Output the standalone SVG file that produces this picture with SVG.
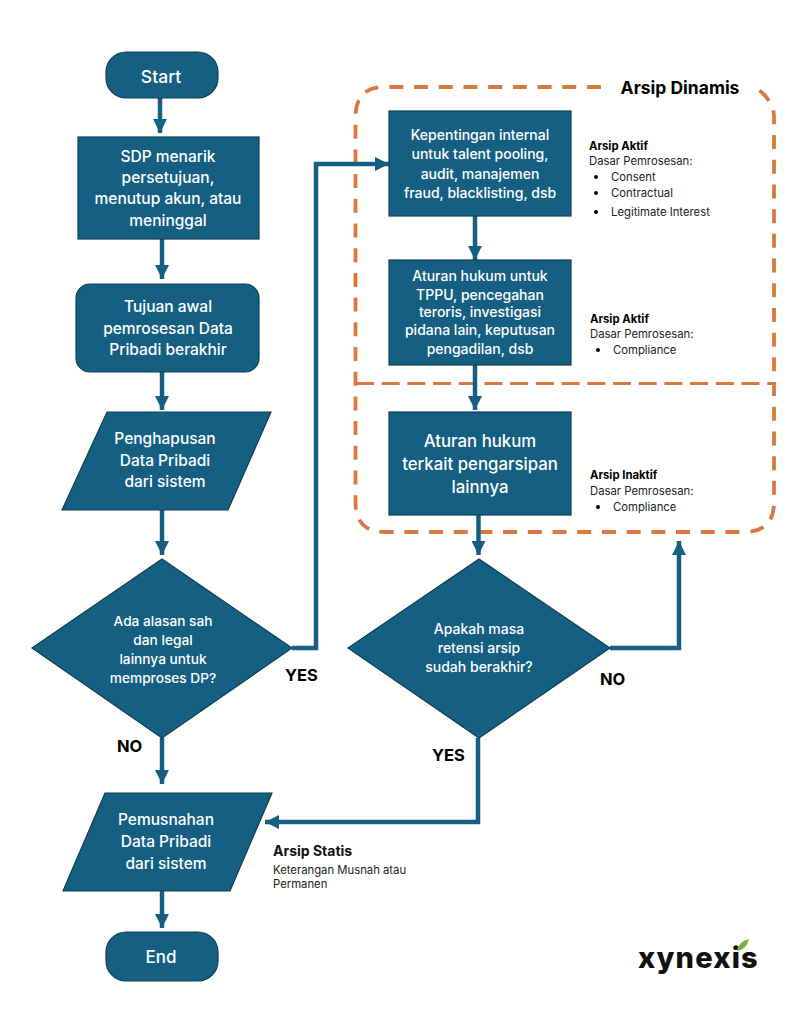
<svg xmlns="http://www.w3.org/2000/svg" width="800" height="1032" viewBox="0 0 800 1032">
<style>
text{font-family:"Inter","Noto Sans","Liberation Sans",sans-serif}
.n{fill:#156082;stroke:#0f3f55;stroke-width:1.2}
.w{fill:#fff;text-anchor:middle;font-size:15.5px;font-weight:500}
.ws{fill:#fff;text-anchor:middle;font-size:14px;font-weight:500}
.c{fill:none;stroke:#156082;stroke-width:4.5}
.d{fill:none;stroke:#d9793f;stroke-width:3.8;stroke-dasharray:14 10.7}
.e{fill:none;stroke:#d9793f;stroke-width:2.8;stroke-dasharray:18 7.7}
.l{font-weight:700;font-size:16.5px;fill:#000}
.h{font-weight:700;font-size:11.3px;fill:#000}
.s{font-size:11.3px;fill:#222}
</style>
<defs>
<marker id="a" markerUnits="userSpaceOnUse" markerWidth="16" markerHeight="14" refX="14" refY="7" orient="auto"><path d="M0 0L14 7L0 14z" fill="#156082"/></marker>
</defs>
<rect width="800" height="1032" fill="#fff"/>
<g id="frame">
<path class="d" d="M601 87H385Q355.500 87 355.500 117V502Q355.500 532 385 532H744Q774 532 774 502V117Q774 102 759 90"/>
<path class="e" d="M356 383.500H776"/>
<text x="680" y="94" text-anchor="middle" font-size="17.5" font-weight="700" fill="#000">Arsip Dinamis</text>
</g>
<g id="connectors">
<path class="c" marker-end="url(#a)" d="M160 98V133"/>
<path class="c" marker-end="url(#a)" d="M162 239V279"/>
<path class="c" marker-end="url(#a)" d="M162 372V410"/>
<path class="c" marker-end="url(#a)" d="M162 510V555"/>
<path class="c" marker-end="url(#a)" d="M162 738V784"/>
<path class="c" marker-end="url(#a)" d="M162 891V928"/>
<path class="c" marker-end="url(#a)" d="M292 648H316V164H389"/>
<path class="c" marker-end="url(#a)" d="M475 216V260"/>
<path class="c" marker-end="url(#a)" d="M475 365V410"/>
<path class="c" marker-end="url(#a)" d="M478.500 515V555"/>
<path class="c" marker-end="url(#a)" d="M610 648H679V541"/>
<path class="c" marker-end="url(#a)" d="M478 738V822H265"/>
</g>
<g id="start"><rect class="n" x="106" y="52" width="112" height="46" rx="20"/><text class="w" x="161" y="83" style="font-size:17.5px">Start</text></g>
<g id="sdp"><rect class="n" x="78" y="137" width="181" height="102"/><text class="w" x="168" y="162">SDP menarik</text><text class="w" x="168" y="183">persetujuan,</text><text class="w" x="168" y="204">menutup akun, atau</text><text class="w" x="168" y="226">meninggal</text></g>
<g id="tujuan"><rect class="n" x="76" y="284" width="183" height="88" rx="14"/><text class="w" x="168" y="312">Tujuan awal</text><text class="w" x="168" y="334">pemrosesan Data</text><text class="w" x="168" y="355">Pribadi berakhir</text></g>
<g id="hapus"><path class="n" d="M107 412H271L228 510H62z"/><text class="w" x="165" y="444">Penghapusan</text><text class="w" x="165" y="466">Data Pribadi</text><text class="w" x="165" y="487">dari sistem</text></g>
<g id="alasan"><path class="n" d="M32 648L162 559L292 648L162 738z"/><text class="ws" x="163" y="626" style="font-size:13.7px">Ada alasan sah</text><text class="ws" x="163" y="645" style="font-size:13.7px">dan legal</text><text class="ws" x="163" y="664" style="font-size:13.7px">lainnya untuk</text><text class="ws" x="163" y="683" style="font-size:13.7px">memproses DP?</text></g>
<g id="musnah"><path class="n" d="M105 793H272L230 891H63z"/><text class="w" x="166" y="825">Pemusnahan</text><text class="w" x="166" y="847">Data Pribadi</text><text class="w" x="166" y="869">dari sistem</text></g>
<g id="end"><rect class="n" x="106" y="932" width="112" height="49" rx="20"/><text class="w" x="161" y="963" style="font-size:17px">End</text></g>
<g id="internal"><rect class="n" x="389" y="111" width="182" height="105"/><text class="ws" x="480" y="140">Kepentingan internal</text><text class="ws" x="480" y="159">untuk talent pooling,</text><text class="ws" x="480" y="179">audit, manajemen</text><text class="ws" x="480" y="198">fraud, blacklisting, dsb</text></g>
<g id="hukum"><rect class="n" x="389" y="260" width="182" height="105"/><text class="ws" x="480" y="281">Aturan hukum untuk</text><text class="ws" x="480" y="300">TPPU, pencegahan</text><text class="ws" x="480" y="317">teroris, investigasi</text><text class="ws" x="480" y="335">pidana lain, keputusan</text><text class="ws" x="480" y="354">pengadilan, dsb</text></g>
<g id="arsip"><rect class="n" x="389" y="412" width="182" height="103"/><text class="w" x="480" y="447" style="font-size:16.8px">Aturan hukum</text><text class="w" x="480" y="470" style="font-size:16.8px">terkait pengarsipan</text><text class="w" x="480" y="493" style="font-size:16.8px">lainnya</text></g>
<g id="retensi"><path class="n" d="M348 648L479 559L610 648L479 738z"/><text class="ws" x="479" y="634">Apakah masa</text><text class="ws" x="479" y="653">retensi arsip</text><text class="ws" x="479" y="672">sudah berakhir?</text></g>
<g id="labels">
<text class="l" x="285" y="681">YES</text><text class="l" x="117" y="752">NO</text><text class="l" x="600" y="685">NO</text><text class="l" x="432" y="761">YES</text>
<text class="h" x="589" y="150">Arsip Aktif</text><text class="s" x="589" y="165">Dasar Pemrosesan:</text>
<circle cx="596" cy="177" r="2"/><text class="s" x="611" y="181">Consent</text>
<circle cx="596" cy="193" r="2"/><text class="s" x="611" y="197">Contractual</text>
<circle cx="596" cy="212" r="2"/><text class="s" x="611" y="216">Legitimate Interest</text>
<text class="h" x="590" y="323">Arsip Aktif</text><text class="s" x="590" y="338">Dasar Pemrosesan:</text>
<circle cx="598" cy="350" r="2"/><text class="s" x="613" y="354">Compliance</text>
<text class="h" x="590" y="479">Arsip Inaktif</text><text class="s" x="590" y="495">Dasar Pemrosesan:</text>
<circle cx="598" cy="507" r="2"/><text class="s" x="613" y="511">Compliance</text>
<text x="273" y="856" font-size="14" font-weight="700" fill="#111">Arsip Statis</text>
<text class="s" x="273" y="874">Keterangan Musnah atau</text><text class="s" x="273" y="888">Permanen</text>
</g>
<g id="logo"><text x="638" y="968" font-size="29" font-weight="800" fill="#111" letter-spacing="1.2">xynexis</text><path d="M737 951Q739 941 749 939Q747 949 737 951z" fill="#7fb23a"/></g>
</svg>
